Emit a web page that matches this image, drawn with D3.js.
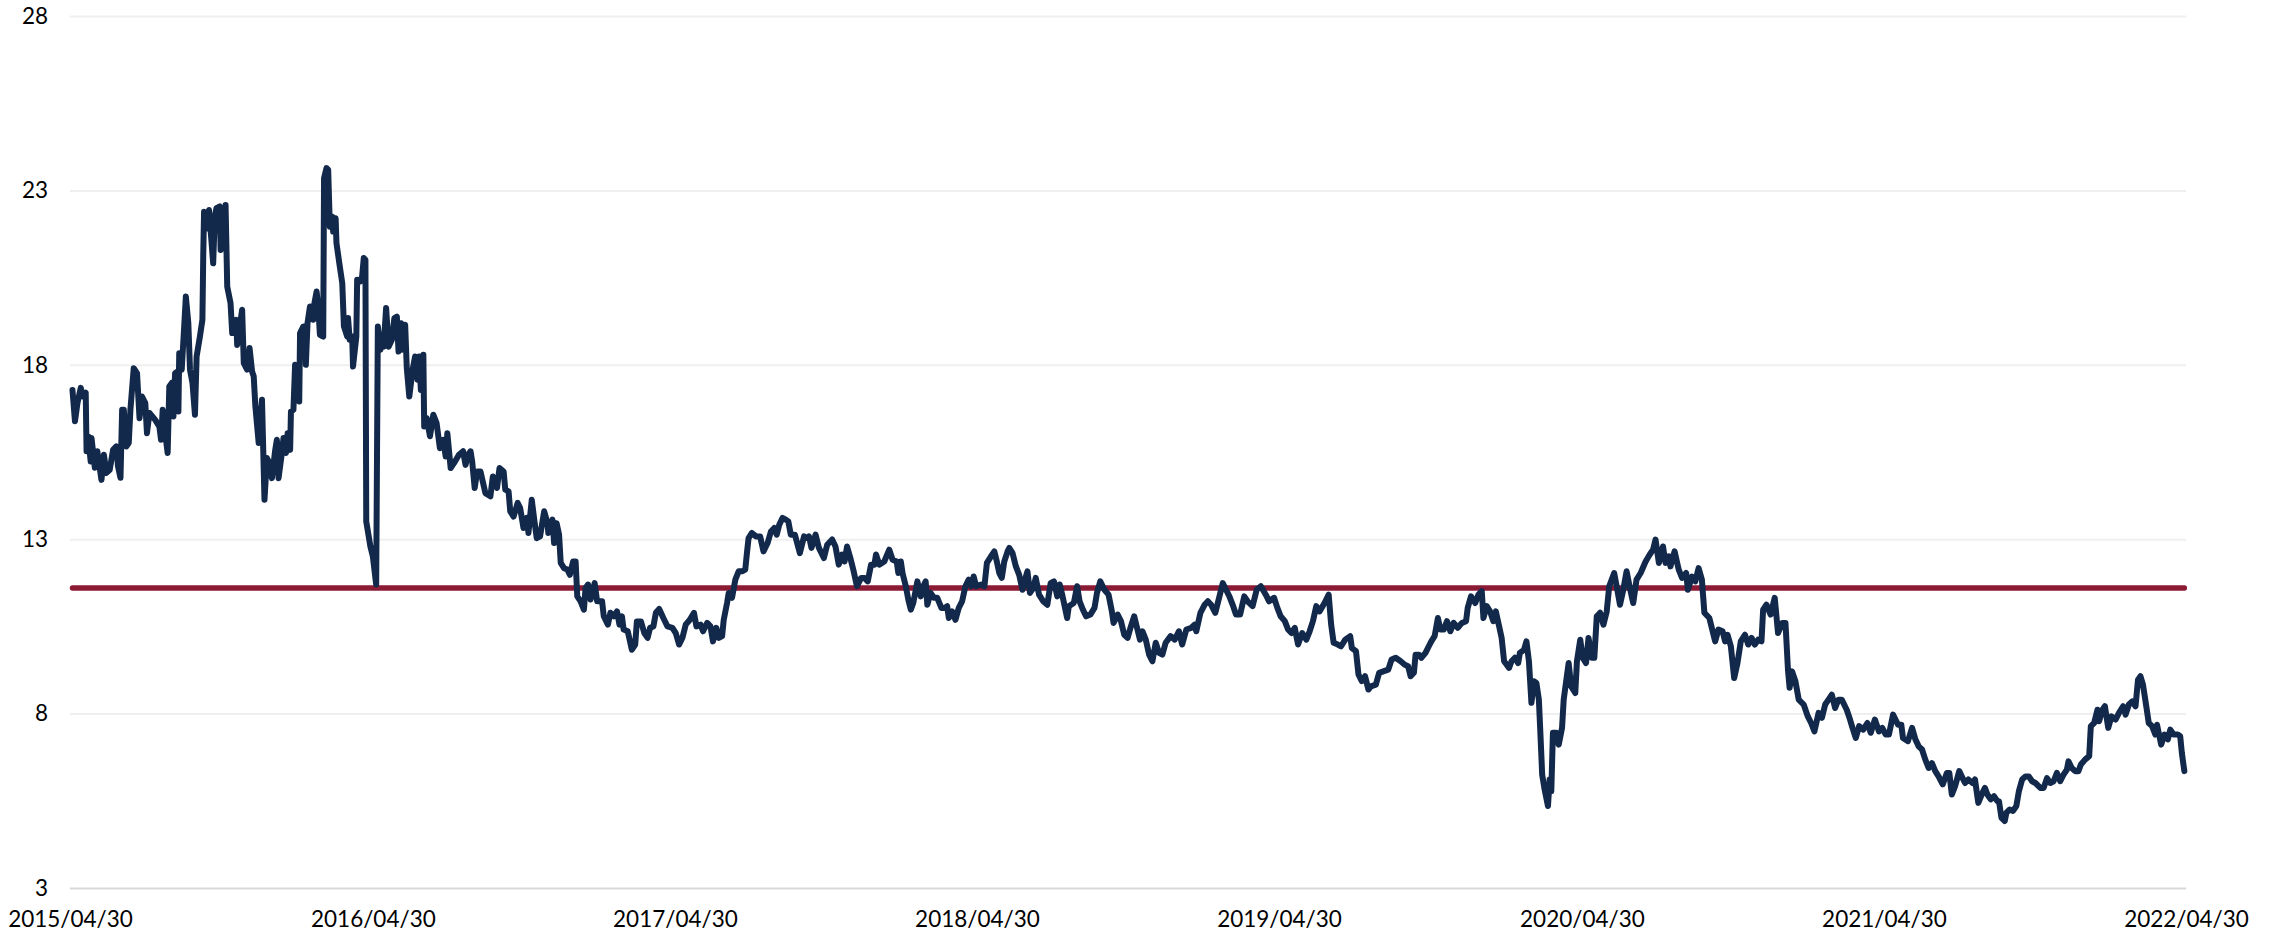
<!DOCTYPE html>
<html>
<head>
<meta charset="utf-8">
<script src="https://cdn.jsdelivr.net/npm/d3@7/dist/d3.min.js"></script>
<style>
	body { margin: 0; background: #fff; }
	svg text { font-family: Lato, 'Open Sans', sans-serif; }
</style>
</head>
<body>
<svg id="svg" width="2275" height="935"></svg>
<script>
// data: day offsets from the first date, and the value read for each
const startDate = '2015/04/30';
const endDate = '2022/04/30';

const dayOffsets = [
	3, 6, 9, 13, 15, 19, 20, 22, 25, 26,
	30, 33, 38, 41, 44, 48, 52, 56, 58, 61,
	63, 65, 68, 71, 73, 77, 81, 84, 87, 91,
	93, 96, 103, 108, 110, 112, 116, 118, 120, 123,
	125, 127, 130, 131, 132, 135, 138, 140, 143, 145,
	148, 151, 153, 157, 160, 161, 162, 165, 168, 171,
	173, 175, 177, 181, 182, 185, 186, 188, 190, 194,
	196, 201, 202, 208, 210, 214, 217, 220, 222, 224,
	228, 232, 235, 238, 241, 244, 248, 250, 252, 256,
	258, 261, 263, 266, 267, 270, 272, 275, 277, 278,
	282, 284, 285, 287, 290, 294, 295, 298, 300, 302,
	306, 307, 310, 312, 314, 317, 318, 321, 322, 326,
	329, 331, 335, 336, 338, 341, 342, 346, 347, 351,
	353, 355, 357, 358, 363, 366, 370, 372, 375, 377,
	379, 382, 385, 389, 392, 395, 397, 400, 401, 405,
	407, 410, 414, 417, 420, 422, 424, 427, 428, 431,
	435, 439, 443, 447, 451, 454, 456, 460, 464, 470,
	475, 478, 481, 484, 486, 489, 492, 496, 502, 508,
	511, 516, 519, 524, 526, 530, 532, 536, 541, 544,
	548, 552, 554, 558, 561, 564, 568, 573, 577, 578,
	583, 585, 588, 591, 593, 597, 601, 604, 608, 611,
	613, 617, 621, 623, 626, 629, 634, 637, 643, 645,
	650, 653, 657, 661, 664, 667, 669, 674, 679, 683,
	685, 690, 694, 698, 701, 705, 708, 712, 717, 722,
	728, 732, 736, 740, 744, 749, 754, 757, 762, 765,
	770, 774, 777, 781, 784, 788, 790, 794, 796, 800,
	804, 808, 812, 816, 818, 820, 824, 829, 834, 838,
	843, 847, 851, 854, 857, 861, 865, 868, 871, 876,
	882, 887, 891, 893, 896, 901, 905, 909, 911, 915,
	921, 925, 929, 933, 936, 939, 943, 947, 951, 956,
	960, 964, 968, 972, 974, 978, 984, 990, 994, 999,
	1001, 1004, 1006, 1010, 1013, 1016, 1019, 1024, 1028, 1030,
	1034, 1036, 1040, 1044, 1048, 1053, 1057, 1060, 1062, 1066,
	1070, 1074, 1078, 1082, 1086, 1089, 1092, 1095, 1101, 1105,
	1108, 1113, 1117, 1120, 1123, 1126, 1129, 1133, 1135, 1139,
	1143, 1147, 1151, 1154, 1157, 1160, 1164, 1167, 1171, 1176,
	1181, 1185, 1189, 1193, 1196, 1199, 1205, 1207, 1213, 1217,
	1220, 1224, 1228, 1233, 1238, 1241, 1245, 1250, 1255, 1259,
	1261, 1266, 1270, 1274, 1278, 1282, 1286, 1289, 1293, 1296,
	1300, 1304, 1308, 1312, 1316, 1320, 1324, 1330, 1335, 1340,
	1344, 1349, 1355, 1359, 1361, 1366, 1371, 1375, 1379, 1384,
	1387, 1393, 1397, 1401, 1405, 1409, 1414, 1419, 1423, 1429,
	1434, 1439, 1445, 1449, 1455, 1459, 1463, 1468, 1472, 1476,
	1480, 1484, 1489, 1494, 1498, 1502, 1506, 1510, 1516, 1521,
	1524, 1527, 1532, 1536, 1541, 1547, 1549, 1554, 1557, 1561,
	1565, 1569, 1572, 1578, 1582, 1587, 1593, 1597, 1602, 1608,
	1613, 1617, 1620, 1624, 1626, 1630, 1633, 1638, 1642, 1645,
	1649, 1653, 1656, 1660, 1664, 1668, 1672, 1677, 1682, 1687,
	1689, 1693, 1698, 1702, 1706, 1708, 1712, 1716, 1720, 1723,
	1727, 1730, 1733, 1739, 1742, 1746, 1750, 1752, 1757, 1760,
	1763, 1766, 1769, 1772, 1775, 1777, 1779, 1782, 1786, 1788,
	1790, 1792, 1796, 1799, 1803, 1805, 1808, 1811, 1814, 1819,
	1821, 1825, 1828, 1832, 1835, 1839, 1842, 1845, 1849, 1853,
	1857, 1860, 1866, 1869, 1873, 1877, 1881, 1885, 1889, 1893,
	1898, 1904, 1909, 1913, 1916, 1920, 1925, 1928, 1932, 1934,
	1939, 1944, 1948, 1953, 1955, 1960, 1964, 1968, 1972, 1975,
	1981, 1985, 1988, 1992, 1997, 2000, 2003, 2007, 2011, 2015,
	2019, 2024, 2028, 2032, 2036, 2040, 2044, 2046, 2050, 2055,
	2060, 2064, 2069, 2073, 2076, 2078, 2081, 2085, 2089, 2095,
	2100, 2104, 2108, 2113, 2117, 2121, 2125, 2129, 2133, 2137,
	2141, 2147, 2151, 2154, 2158, 2162, 2167, 2172, 2176, 2181,
	2186, 2190, 2194, 2198, 2203, 2209, 2213, 2215, 2221, 2226,
	2230, 2234, 2238, 2242, 2246, 2250, 2254, 2258, 2263, 2268,
	2271, 2274, 2278, 2283, 2286, 2290, 2294, 2299, 2302, 2306,
	2311, 2314, 2317, 2321, 2325, 2329, 2331, 2334, 2338, 2340,
	2344, 2348, 2352, 2355, 2359, 2363, 2367, 2371, 2375, 2381,
	2385, 2389, 2393, 2397, 2401, 2405, 2409, 2413, 2415, 2419,
	2423, 2427, 2430, 2435, 2440, 2442, 2446, 2450, 2452, 2456,
	2459, 2463, 2467, 2472, 2476, 2481, 2484, 2488, 2492, 2496,
	2499, 2502, 2505, 2509, 2512, 2516, 2520, 2522, 2527, 2531,
	2535, 2538, 2542, 2547, 2550, 2552, 2555
];

const values = [
	17.28, 16.38, 16.9, 17.34, 17.09, 17.2, 15.52, 15.95, 15.23, 15.9,
	15.05, 15.52, 14.7, 15.42, 14.9, 14.99, 15.56, 15.66, 15.09, 14.76,
	16.71, 16.71, 15.66, 15.76, 16.71, 17.9, 17.76, 16.47, 17.09, 16.9,
	16.04, 16.62, 16.42, 16.23, 15.85, 16.71, 15.85, 15.47, 17.38, 17.48,
	16.52, 17.76, 17.81, 16.66, 18.33, 17.86, 19.1, 19.96, 19.19, 17.86,
	17.48, 16.57, 18.24, 18.81, 19.29, 21.1, 22.39, 21.91, 22.44, 21.53,
	20.91, 22.25, 22.49, 22.54, 21.29, 22.25, 21.39, 22.58, 20.24, 19.77,
	18.91, 19.29, 18.57, 19.58, 18.05, 17.86, 18.48, 17.81, 17.67, 16.81,
	15.76, 17.0, 14.13, 15.33, 15.18, 14.75, 15.56, 15.85, 14.75, 15.47,
	15.9, 15.47, 16.04, 15.56, 16.66, 16.71, 18.0, 17.95, 16.95, 18.91,
	19.1, 19.1, 18.0, 19.19, 19.67, 19.29, 19.72, 20.1, 19.67, 18.86,
	18.81, 23.35, 23.64, 23.59, 21.96, 22.25, 21.82, 22.2, 21.49, 20.82,
	20.34, 19.1, 18.81, 19.34, 18.72, 18.81, 17.95, 18.81, 20.44, 20.39,
	20.53, 21.06, 21.01, 13.51, 12.79, 12.5, 11.7, 19.1, 18.43, 18.86,
	18.52, 19.63, 18.52, 18.72, 19.34, 19.38, 18.38, 19.19, 18.43, 19.15,
	17.9, 17.09, 17.86, 18.24, 17.57, 18.24, 17.28, 18.29, 16.23, 16.47,
	15.95, 16.57, 16.33, 15.61, 15.85, 15.37, 16.04, 15.04, 15.18, 15.42,
	15.52, 15.13, 15.42, 15.52, 15.23, 14.47, 14.94, 14.94, 14.32, 14.23,
	14.8, 14.47, 15.04, 14.94, 14.42, 14.37, 13.8, 13.65, 14.04, 13.89,
	13.32, 13.61, 13.18, 14.13, 13.56, 13.03, 13.08, 13.8, 13.46, 13.18,
	13.56, 12.89, 13.46, 13.13, 12.32, 12.17, 12.13, 11.98, 12.36, 12.36,
	11.36, 11.22, 10.98, 11.6, 11.7, 11.27, 11.74, 11.22, 11.22, 10.79,
	10.55, 10.89, 10.79, 10.93, 10.55, 10.79, 10.41, 10.36, 9.83, 9.98,
	10.64, 10.64, 10.31, 10.17, 10.46, 10.5, 10.89, 11.0, 10.74, 10.5,
	10.46, 10.31, 9.98, 10.17, 10.55, 10.69, 10.89, 10.5, 10.55, 10.36,
	10.6, 10.5, 10.07, 10.46, 10.17, 10.22, 10.69, 11.17, 11.46, 11.32,
	11.84, 12.08, 12.08, 12.13, 12.6, 13.03, 13.18, 13.08, 13.08, 12.65,
	12.89, 13.22, 13.32, 13.13, 13.41, 13.61, 13.56, 13.51, 13.13, 13.13,
	12.6, 13.08, 13.03, 13.08, 12.75, 13.13, 12.75, 12.56, 12.46, 12.84,
	12.99, 12.79, 12.27, 12.56, 12.36, 12.79, 12.46, 12.08, 11.65, 11.89,
	11.89, 11.79, 12.27, 12.27, 12.56, 12.27, 12.36, 12.7, 12.41, 12.36,
	12.03, 12.36, 12.03, 11.65, 11.27, 10.98, 11.17, 11.79, 11.36, 11.6,
	11.79, 11.12, 11.46, 11.32, 11.32, 11.03, 11.03, 11.08, 10.74, 10.93,
	10.69, 11.03, 11.22, 11.65, 11.84, 11.65, 11.93, 11.65, 11.7, 11.65,
	12.32, 12.51, 12.65, 12.36, 12.03, 11.89, 12.36, 12.65, 12.75, 12.6,
	12.22, 11.98, 11.55, 11.84, 12.08, 11.46, 11.6, 11.89, 11.41, 11.22,
	11.12, 11.74, 11.79, 11.36, 11.7, 11.41, 10.74, 11.08, 11.17, 11.65,
	11.22, 10.98, 10.79, 10.84, 11.03, 11.46, 11.79, 11.55, 11.41, 10.93,
	10.6, 10.84, 10.65, 10.26, 10.17, 10.5, 10.79, 10.5, 10.12, 10.36,
	10.12, 9.69, 9.5, 10.03, 9.74, 9.69, 10.03, 10.22, 10.12, 10.36,
	9.98, 10.41, 10.46, 10.55, 10.36, 10.89, 11.12, 11.22, 11.12, 10.89,
	11.17, 11.74, 11.55, 11.36, 11.12, 10.84, 10.84, 11.36, 11.22, 11.08,
	11.55, 11.65, 11.41, 11.22, 11.32, 11.03, 10.79, 10.65, 10.41, 10.31,
	10.46, 9.98, 10.31, 10.12, 10.36, 10.65, 11.08, 10.93, 11.17, 11.41,
	10.55, 10.03, 9.98, 9.93, 10.12, 10.22, 9.88, 9.79, 9.12, 8.93,
	9.07, 8.69, 8.78, 8.83, 9.17, 9.21, 9.26, 9.55, 9.6, 9.5,
	9.4, 9.36, 9.07, 9.17, 9.69, 9.69, 9.6, 9.74, 9.93, 10.07,
	10.22, 10.74, 10.41, 10.41, 10.65, 10.36, 10.6, 10.46, 10.6, 10.65,
	11.03, 11.36, 11.17, 11.41, 11.51, 10.74, 11.08, 10.93, 10.65, 10.93,
	10.5, 10.17, 9.5, 9.31, 9.5, 9.6, 9.45, 9.74, 9.83, 10.07,
	9.5, 8.31, 8.93, 8.88, 8.4, 7.35, 6.25, 5.82, 5.35, 6.11,
	5.77, 7.45, 7.45, 7.11, 7.59, 8.4, 8.93, 9.45, 8.78, 8.59,
	9.5, 10.12, 9.6, 9.45, 10.17, 9.6, 9.6, 10.79, 10.89, 10.55,
	10.93, 11.65, 12.03, 11.65, 11.12, 11.55, 12.08, 11.6, 11.17, 11.84,
	12.03, 12.36, 12.56, 12.7, 12.99, 12.32, 12.79, 12.32, 12.51, 12.22,
	12.65, 12.13, 11.89, 12.03, 11.55, 11.93, 11.79, 12.17, 11.84, 10.89,
	10.74, 10.36, 10.07, 10.41, 10.36, 10.07, 10.26, 9.93, 9.02, 9.45,
	10.07, 10.26, 9.98, 10.17, 9.98, 10.12, 10.07, 10.98, 11.12, 10.84,
	11.32, 10.31, 10.6, 10.6, 9.26, 8.74, 9.21, 8.93, 8.4, 8.26,
	7.92, 7.73, 7.49, 8.02, 7.88, 8.26, 8.4, 8.54, 8.16, 8.4,
	8.4, 8.11, 7.83, 7.59, 7.3, 7.64, 7.54, 7.73, 7.45, 7.83,
	7.49, 7.59, 7.4, 7.4, 7.97, 7.68, 7.68, 7.3, 7.21, 7.59,
	7.26, 7.06, 6.97, 6.68, 6.44, 6.58, 6.35, 6.2, 5.97, 6.3,
	6.3, 5.68, 5.92, 6.35, 6.2, 6.01, 6.11, 6.01, 6.11, 5.44,
	5.73, 5.87, 5.68, 5.54, 5.63, 5.49, 5.49, 5.01, 4.92, 5.16,
	5.25, 5.21, 5.35, 5.77, 6.11, 6.2, 6.2, 6.06, 6.01, 5.87,
	5.87, 6.15, 6.01, 6.06, 6.3, 6.06, 6.25, 6.39, 6.63, 6.44,
	6.35, 6.35, 6.54, 6.68, 6.78, 7.64, 7.73, 8.11, 7.78, 8.11,
	8.21, 7.59, 7.92, 7.83, 8.02, 8.21, 7.97, 8.26, 8.35, 8.21,
	8.97, 9.07, 8.83, 8.21, 7.73, 7.64, 7.4, 7.68, 7.11, 7.4,
	7.26, 7.54, 7.4, 7.4, 7.35, 6.87, 6.35
];

// average line
const meanValue = 11.6;

const yTicks = [3, 8, 13, 18, 23, 28];
const xTickLabels = [
	'2015/04/30', '2016/04/30', '2017/04/30', '2018/04/30',
	'2019/04/30', '2020/04/30', '2021/04/30', '2022/04/30'
];

const margin = { top: 16, right: 89, bottom: 47, left: 70 };
const width = 2275 - (margin.left + margin.right);
const height = 935 - (margin.top + margin.bottom);

const parseDate = d3.timeParse('%Y/%m/%d');
const formatDate = d3.timeFormat('%Y/%m/%d');
const start = parseDate(startDate);

const data = dayOffsets.map((d, i) => ({
	date: d3.timeDay.offset(start, d),
	value: values[i]
}));

// scales
const xscale = d3
	.scaleTime()
	.domain([start, parseDate(endDate)])
	.range([margin.left, margin.left + width]);

const yscale = d3
	.scaleLinear()
	.domain([3, 28])
	.range([margin.top + height, margin.top]);

const svg = d3.select('#svg');

// grid + y labels
const leftAxis = d3
	.axisLeft(yscale)
	.tickValues(yTicks)
	.tickSize(-width)
	.tickPadding(22);

const yAxisG = svg
	.append('g')
	.attr('transform', `translate(${margin.left}, 0)`)
	.call(leftAxis);

yAxisG.select('.domain').remove();
yAxisG
	.selectAll('.tick line')
	.attr('stroke', (d) => (d === 3 ? '#d9d9d9' : '#efefef'))
	.attr('stroke-width', 2);
yAxisG
	.selectAll('.tick text')
	.attr('font-size', 22.5)
	.attr('fill', '#000');

// x labels
const bottomAxis = d3
	.axisBottom(xscale)
	.tickValues(xTickLabels.map(parseDate))
	.tickFormat(formatDate)
	.tickSize(0)
	.tickPadding(23);

const xAxisG = svg
	.append('g')
	.attr('transform', `translate(0, ${margin.top + height})`)
	.call(bottomAxis);

xAxisG.select('.domain').remove();
xAxisG
	.selectAll('.tick text')
	.attr('font-size', 22.5)
	.attr('fill', '#000');

// mean line
svg
	.append('line')
	.attr('x1', xscale(data[0].date))
	.attr('x2', xscale(data[data.length - 1].date))
	.attr('y1', yscale(meanValue))
	.attr('y2', yscale(meanValue))
	.attr('stroke', '#8b1a35')
	.attr('stroke-width', 5.5)
	.attr('stroke-linecap', 'round');

// series
const line = d3
	.line()
	.x((d) => xscale(d.date))
	.y((d) => yscale(d.value));

svg
	.append('path')
	.datum(data)
	.attr('d', line)
	.attr('fill', 'none')
	.attr('stroke', '#13294b')
	.attr('stroke-width', 6)
	.attr('stroke-linejoin', 'round')
	.attr('stroke-linecap', 'round');
</script>
</body>
</html>
